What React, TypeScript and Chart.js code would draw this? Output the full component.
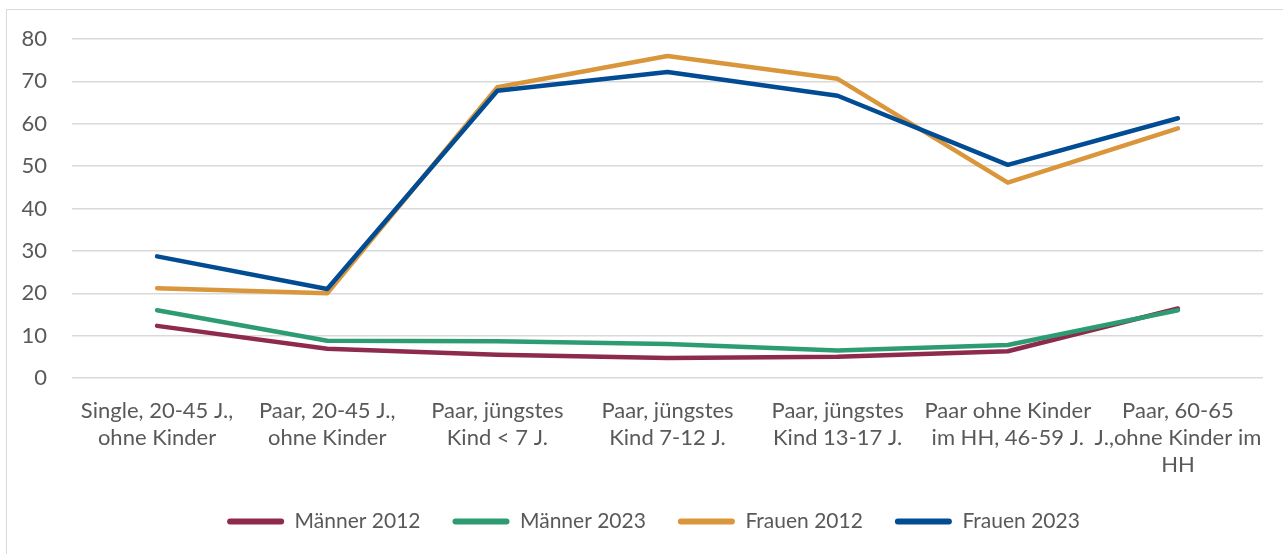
import React, { useEffect, useRef } from "react";
import { Chart, registerables } from "chart.js";

Chart.register(...registerables);

const categories: string[][] = [
  ["Single, 20-45 J.,", "ohne Kinder"],
  ["Paar, 20-45 J.,", "ohne Kinder"],
  ["Paar, jüngstes", "Kind < 7 J."],
  ["Paar, jüngstes", "Kind 7-12 J."],
  ["Paar, jüngstes", "Kind 13-17 J."],
  ["Paar ohne Kinder", "im HH, 46-59 J."],
  ["Paar, 60-65", "J.,ohne Kinder im", "HH"],
];

const maenner2012 = [12.3, 6.9, 5.5, 4.7, 5.0, 6.3, 16.4];
const maenner2023 = [16.0, 8.8, 8.7, 8.0, 6.5, 7.8, 16.0];
const frauen2012 = [21.2, 20.0, 68.6, 76.0, 70.6, 46.1, 58.9];
const frauen2023 = [28.7, 21.0, 67.8, 72.2, 66.6, 50.3, 61.3];

const seriesNames = ["Männer 2012", "Männer 2023", "Frauen 2012", "Frauen 2023"];
const seriesColors = ["#8E2A4D", "#2E9C72", "#D9963A", "#024C93"];

const FONT = "Lato, 'Liberation Sans', sans-serif";
const TEXT = "#595959";

const legendShift = {
  id: "legendShift",
  afterLayout(chart: any) {
    if (chart.legend) {
      chart.legend.left += 22;
      chart.legend.right += 22;
    }
  },
};

export default function App() {
  const ref = useRef<HTMLCanvasElement | null>(null);

  useEffect(() => {
    if (!ref.current) return;
    const values = [maenner2012, maenner2023, frauen2012, frauen2023];
    const chart = new Chart(ref.current, {
      type: "line",
      data: {
        labels: categories,
        datasets: values.map((v, i) => ({
          label: seriesNames[i],
          data: v,
          borderColor: seriesColors[i],
          backgroundColor: seriesColors[i],
          borderWidth: 4.5,
          borderCapStyle: "round" as const,
          borderJoinStyle: "round" as const,
          pointRadius: 0,
          pointHoverRadius: 0,
          tension: 0,
          fill: false,
          order: 3 - i,
        })),
      },
      options: {
        responsive: false,
        animation: false,
        layout: { padding: { left: 0, top: 39, right: 20, bottom: 12 } },
        plugins: {
          tooltip: { enabled: false },
          legend: {
            position: "bottom",
            labels: {
              color: TEXT,
              font: { family: FONT, size: 21 },
              boxWidth: 57,
              boxHeight: 6,
              padding: 32,
              sort: (a: any, b: any) => a.datasetIndex - b.datasetIndex,
              generateLabels: (chart: any) =>
                chart.data.datasets.map((ds: any, i: number) => ({
                  text: ds.label,
                  fillStyle: ds.borderColor,
                  strokeStyle: ds.borderColor,
                  lineWidth: 0,
                  borderRadius: 3,
                  fontColor: TEXT,
                  hidden: false,
                  datasetIndex: i,
                })),
              useBorderRadius: true,
              borderRadius: 3,
            },
          },
        },
        scales: {
          x: {
            offset: true,
            grid: { display: false, drawTicks: false, offset: true },
            border: { display: false },
            ticks: {
              color: TEXT,
              font: { family: FONT, size: 22, lineHeight: 1.23 },
              padding: 19,
              maxRotation: 0,
              autoSkip: false,
            },
            afterFit: (scale: any) => {
              scale.height = 101;
            },
          },
          y: {
            min: 0,
            max: 80,
            grid: { color: "#D9D9D9", lineWidth: 1.5, drawTicks: false },
            border: { display: false },
            ticks: {
              stepSize: 10,
              color: TEXT,
              font: { family: FONT, size: 22 },
              padding: 25,
            },
            afterFit: (scale: any) => {
              scale.width = 72;
            },
          },
        },
      },
      plugins: [legendShift],
    });
    return () => chart.destroy();
  }, []);

  return (
    <div
      style={{
        position: "fixed",
        left: 0,
        top: 0,
        width: 1283,
        height: 554,
        overflow: "hidden",
        background: "#fff",
      }}
    >
      <div
        style={{
          position: "absolute",
          left: 6,
          top: 9,
          width: 1320,
          height: 620,
          border: "1.5px solid #D9D9D9",
          boxSizing: "border-box",
        }}
      />
      <canvas
        ref={ref}
        width={1283}
        height={554}
        style={{ position: "absolute", left: 0, top: 0 }}
      />
    </div>
  );
}
